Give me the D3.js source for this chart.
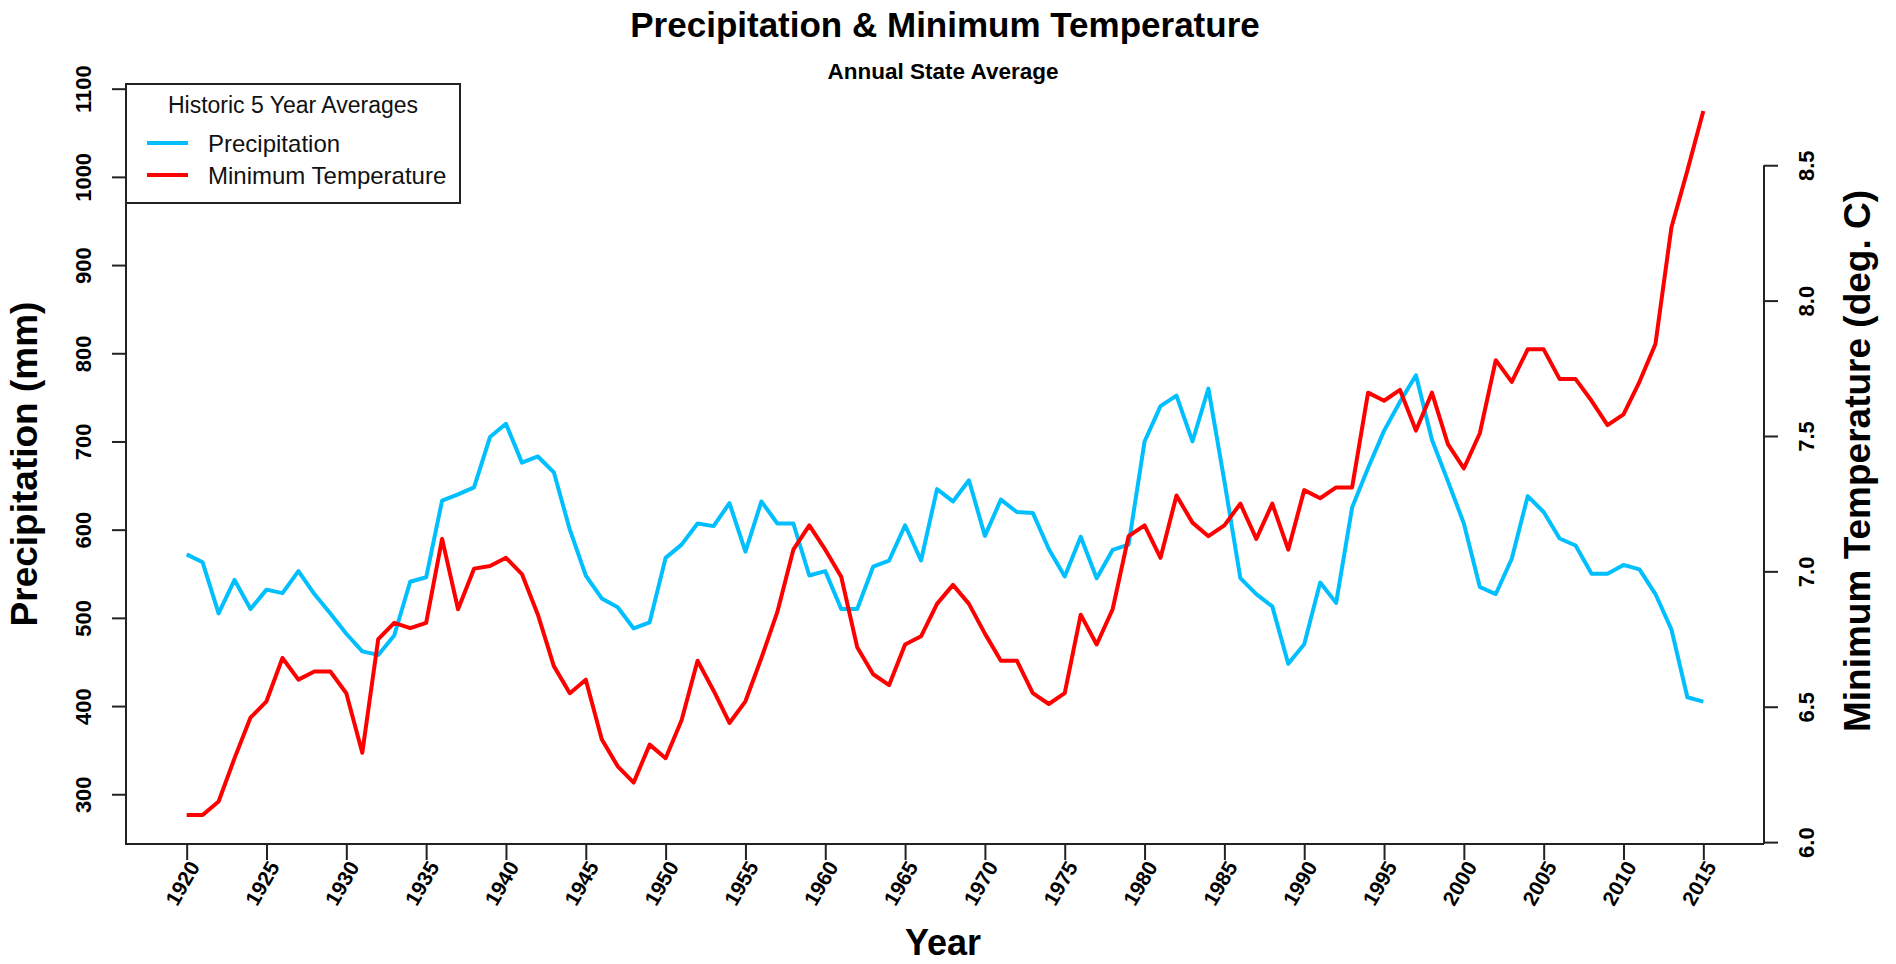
<!DOCTYPE html>
<html>
<head>
<meta charset="utf-8">
<script src="https://cdn.jsdelivr.net/npm/d3@7"></script>
<style>
  html, body { margin: 0; padding: 0; background: #fff; }
  svg { display: block; font-family: "Liberation Sans", Arial, sans-serif; }
</style>
</head>
<body>
<svg id="chart" width="1896" height="964"></svg>
<script>
// ---- data ----
const years = d3.range(1920, 2016);
const precipitation = [
  572, 563, 505, 543, 510, 532, 528, 553, 527, 505,
  482, 462, 458, 480, 541, 546, 633, 640, 648, 705,
  720, 676, 683, 665, 600, 548, 522, 512, 488, 495,
  568, 583, 607, 604, 630, 575, 632, 607, 607, 548,
  553, 510, 510, 558, 565, 605, 565, 646, 632, 656,
  593, 634, 620, 619, 578, 547, 592, 545, 577, 583,
  700, 740, 752, 700, 760, 655, 545, 527, 513, 448,
  470, 540, 517, 625, 670, 712, 745, 775, 702, 655,
  607, 535, 527, 567, 638, 620, 590, 582, 550, 550,
  560, 555, 527, 487, 410, 405
];
const minTemperature = [
  6.10, 6.10, 6.15, 6.31, 6.46, 6.52, 6.68, 6.60, 6.63, 6.63,
  6.55, 6.33, 6.75, 6.81, 6.79, 6.81, 7.12, 6.86, 7.01, 7.02,
  7.05, 6.99, 6.84, 6.65, 6.55, 6.60, 6.38, 6.28, 6.22, 6.36,
  6.31, 6.45, 6.67, 6.56, 6.44, 6.52, 6.68, 6.85, 7.08, 7.17,
  7.08, 6.98, 6.72, 6.62, 6.58, 6.73, 6.76, 6.88, 6.95, 6.88,
  6.77, 6.67, 6.67, 6.55, 6.51, 6.55, 6.84, 6.73, 6.86, 7.13,
  7.17, 7.05, 7.28, 7.18, 7.13, 7.17, 7.25, 7.12, 7.25, 7.08,
  7.30, 7.27, 7.31, 7.31, 7.66, 7.63, 7.67, 7.52, 7.66, 7.47,
  7.38, 7.51, 7.78, 7.70, 7.82, 7.82, 7.71, 7.71, 7.63, 7.54,
  7.58, 7.70, 7.84, 8.27, 8.48, 8.70
];
const xTicks = d3.range(1920, 2016, 5);
const precipTicks = [300, 400, 500, 600, 700, 800, 900, 1000, 1100];
const tempTicks = [6.0, 6.5, 7.0, 7.5, 8.0, 8.5];
const seriesNames = ["Precipitation", "Minimum Temperature"];
const seriesColors = ["#00BFFF", "#FF0000"];

// ---- layout ----
const L = 126, R = 1764, T = 84, B = 844;
const svg = d3.select("#chart");

const x = d3.scaleLinear().domain([1916.2, 2018.8]).range([L, R]);
const yP = d3.scaleLinear().domain([243.6, 1105.3]).range([B, T]);
const yT = d3.scaleLinear().domain([5.993, 8.80]).range([B, T]);

// titles
svg.append("text").attr("x", 945).attr("y", 37).attr("text-anchor", "middle")
  .attr("font-weight", "bold").attr("font-size", 35).text("Precipitation & Minimum Temperature");
svg.append("text").attr("x", 943).attr("y", 79).attr("text-anchor", "middle")
  .attr("font-weight", "bold").attr("font-size", 22.5).text("Annual State Average");

// lines
const lineP = d3.line().x((d, i) => x(years[i])).y(d => yP(d));
const lineT = d3.line().x((d, i) => x(years[i])).y(d => yT(d));
svg.append("path").datum(precipitation).attr("d", lineP)
  .attr("fill", "none").attr("stroke", seriesColors[0]).attr("stroke-width", 4).attr("stroke-linejoin", "round");
svg.append("path").datum(minTemperature).attr("d", lineT)
  .attr("fill", "none").attr("stroke", seriesColors[1]).attr("stroke-width", 4).attr("stroke-linejoin", "round");

// axes
const axisColor = "#222";
const gx = svg.append("g").attr("transform", `translate(0,${B})`)
  .call(d3.axisBottom(x).tickValues(xTicks).tickSize(16).tickSizeOuter(0).tickFormat(d3.format("d")));
gx.select(".domain").remove();
gx.selectAll("text")
  .attr("y", null).attr("dy", "0.35em")
  .attr("text-anchor", "end")
  .attr("transform", "translate(7,19) rotate(-60)")
  .attr("font-size", 21).attr("font-weight", "bold").attr("fill", "#000")
  .attr("font-family", "Liberation Sans, Arial, sans-serif");

const gl = svg.append("g").attr("transform", `translate(${L},0)`)
  .call(d3.axisLeft(yP).tickValues(precipTicks).tickSize(14).tickSizeOuter(0).tickFormat(d3.format("d")));
gl.select(".domain").remove();
gl.selectAll("text")
  .attr("x", null).attr("dy", null)
  .attr("text-anchor", "middle")
  .attr("transform", "translate(-35,0) rotate(-90)")
  .attr("font-size", 22).attr("font-weight", "bold").attr("fill", "#000")
  .attr("font-family", "Liberation Sans, Arial, sans-serif");

const gr = svg.append("g").attr("transform", `translate(${R},0)`)
  .call(d3.axisRight(yT).tickValues(tempTicks).tickSize(14).tickSizeOuter(0).tickFormat(d3.format(".1f")));
gr.select(".domain").remove();
gr.selectAll("text")
  .attr("x", null).attr("dy", null)
  .attr("text-anchor", "middle")
  .attr("transform", "translate(50,0) rotate(-90)")
  .attr("font-size", 22).attr("font-weight", "bold").attr("fill", "#000")
  .attr("font-family", "Liberation Sans, Arial, sans-serif");

svg.selectAll(".tick line").attr("stroke", axisColor).attr("stroke-width", 2);

// frame lines: left + bottom box, right axis line
svg.append("path").attr("d", `M${L},${T}V${B}H${R}`).attr("fill", "none").attr("stroke", axisColor).attr("stroke-width", 2);
svg.append("line").attr("x1", R).attr("x2", R).attr("y1", yT(8.5)).attr("y2", B)
  .attr("stroke", axisColor).attr("stroke-width", 2);

// axis titles
svg.append("text").attr("x", 943).attr("y", 955).attr("text-anchor", "middle")
  .attr("font-weight", "bold").attr("font-size", 36).text("Year");
svg.append("text").attr("transform", `translate(37,${(T + B) / 2}) rotate(-90)`).attr("text-anchor", "middle")
  .attr("font-weight", "bold").attr("font-size", 37).text("Precipitation (mm)");
svg.append("text").attr("transform", `translate(1870,${(T + B) / 2 - 3}) rotate(-90)`).attr("text-anchor", "middle")
  .attr("font-weight", "bold").attr("font-size", 37).text("Minimum Temperature (deg. C)");

// legend
const lg = svg.append("g");
lg.append("rect").attr("x", L).attr("y", T).attr("width", 334).attr("height", 119)
  .attr("fill", "#fff").attr("stroke", axisColor).attr("stroke-width", 2);
lg.append("text").attr("x", 293).attr("y", 113).attr("text-anchor", "middle")
  .attr("font-size", 23).attr("fill", "#111").text("Historic 5 Year Averages");
const rowsY = [143, 175];
seriesNames.forEach((name, i) => {
  lg.append("line").attr("x1", 147).attr("x2", 188).attr("y1", rowsY[i]).attr("y2", rowsY[i])
    .attr("stroke", seriesColors[i]).attr("stroke-width", 4);
  lg.append("text").attr("x", 208).attr("y", rowsY[i] + 9).attr("font-size", 24).attr("fill", "#111").text(name);
});
</script>
</body>
</html>
